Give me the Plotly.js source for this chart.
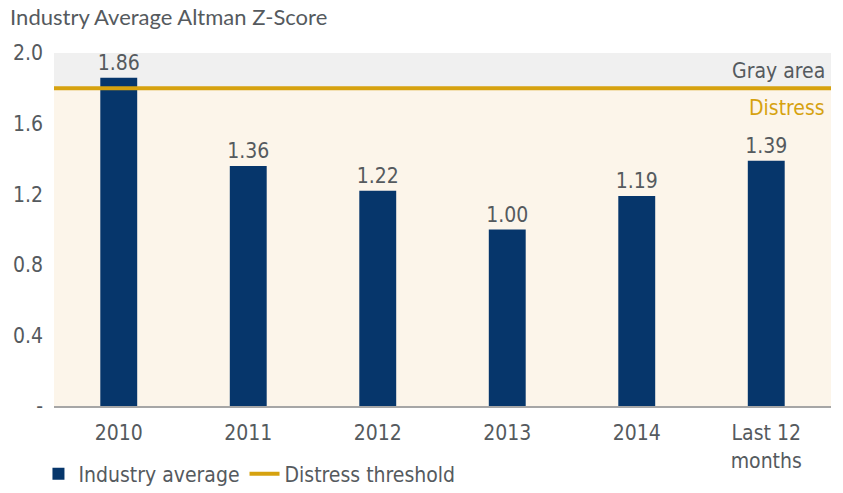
<!DOCTYPE html>
<html><head><meta charset="utf-8">
<script src="https://cdn.plot.ly/plotly-3.0.1.min.js"></script>
<style>body{margin:0;background:#fff}#c{width:843px;height:493px}</style>
</head><body><div id="c"></div>
<script>
var categories = ["2010","2011","2012","2013","2014","Last 12<br>months"];
var industryAvg = [1.86, 1.36, 1.22, 1.00, 1.19, 1.39];
var labels = ["1.86","1.36","1.22","1.00","1.19","1.39"];
var threshold = 1.8;
var yMax = 2.0;
var yTickVals = [0, 0.4, 0.8, 1.2, 1.6, 2.0];
var yTickText = ["-", "0.4", "0.8", "1.2", "1.6", "2.0"];

var NAVY = "#06366b", GOLD = "#d6a20f", TXT = "#555a5e";
var CF = "Liberation Sans Narrow, DejaVu Sans Condensed, Arial Narrow, sans-serif";
var FS = 21;

var traces = [
  {type:"bar", x:categories, y:industryAvg, name:"Industry average",
   marker:{color:NAVY}, text:labels, textposition:"outside", cliponaxis:false, constraintext:"none",
   textfont:{family:CF, size:FS, color:TXT}, hoverinfo:"skip"},
  {type:"scatter", mode:"lines", x:[0,1], y:[threshold, threshold], xaxis:"x2",
   name:"Distress threshold", line:{color:GOLD, width:4}, hoverinfo:"skip"}
];

var layout = {
  width:843, height:493,
  margin:{l:54, r:12, t:53, b:87, autoexpand:false},
  paper_bgcolor:"#fff", plot_bgcolor:"rgba(0,0,0,0)",
  font:{family:CF, color:TXT, size:FS},
  title:{text:"Industry Average Altman Z-Score", x:0.012, xanchor:"left", y:0.965, yanchor:"middle",
         font:{family:"Lato, Open Sans, sans-serif", size:22, color:TXT}},
  bargap:0.715,
  showlegend:true,
  legend:{orientation:"h", x:-0.02, xanchor:"left", y:-0.193, yanchor:"middle",
          font:{family:CF, size:FS, color:TXT}, itemwidth:30, tracegroupgap:0},
  xaxis:{type:"category", showgrid:false, zeroline:false, showline:true, linecolor:"#a6a6a6", linewidth:2,
         ticks:"", ticklabelstandoff:7, automargin:false, tickfont:{family:CF, size:FS, color:TXT}, fixedrange:true},
  xaxis2:{overlaying:"x", range:[0,1], visible:false, fixedrange:true},
  yaxis:{range:[0, yMax], tickvals:yTickVals, ticktext:yTickText, showgrid:false, zeroline:false, automargin:false,
         showline:false, ticks:"", ticklen:0, ticklabelstandoff:10, tickfont:{family:CF, size:FS, color:TXT}, fixedrange:true},
  shapes:[
    {type:"rect", xref:"paper", yref:"y", x0:0, x1:1, y0:0, y1:threshold, fillcolor:"#fcf5ea", line:{width:0}, layer:"below"},
    {type:"rect", xref:"paper", yref:"y", x0:0, x1:1, y0:threshold, y1:yMax, fillcolor:"#f0f0f0", line:{width:0}, layer:"below"}
  ],
  annotations:[
    {xref:"paper", yref:"y", x:1, y:(threshold+yMax)/2, xanchor:"right", yanchor:"middle", xshift:-4, yshift:0,
     text:"Gray area", showarrow:false, font:{family:CF, size:FS, color:TXT}},
    {xref:"paper", yref:"y", x:1, y:threshold, xanchor:"right", yanchor:"top", xshift:-4, yshift:-6,
     text:"Distress", showarrow:false, font:{family:CF, size:FS, color:GOLD}}
  ]
};
Plotly.newPlot("c", traces, layout, {displayModeBar:false, staticPlot:true});
</script></body></html>
